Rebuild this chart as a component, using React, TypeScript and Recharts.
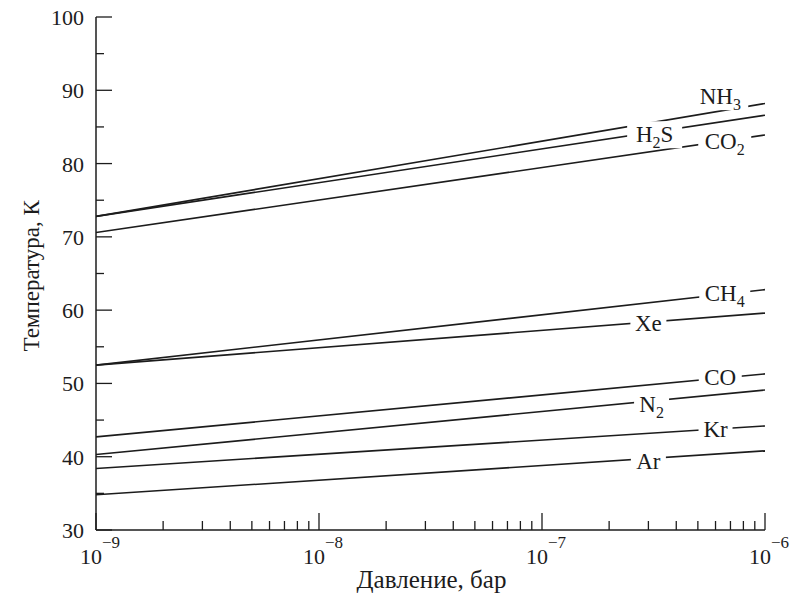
import React from "react";
import {
  ComposedChart,
  Line,
  Scatter,
  XAxis,
  YAxis,
} from "recharts";

// pressure range (bar), both ends of every line
const pressure = [1e-9, 1e-6];

// temperature (K) at 1e-9 and 1e-6 bar
const nh3 = [72.8, 88.2];
const h2s = [72.8, 86.6];
const co2 = [70.6, 83.9];
const ch4 = [52.5, 62.8];
const xe = [52.5, 59.6];
const co = [42.7, 51.3];
const n2 = [40.3, 49.1];
const kr = [38.4, 44.2];
const ar = [34.8, 40.8];

const seriesNames = ["NH3", "H2S", "CO2", "CH4", "Xe", "CO", "N2", "Kr", "Ar"];
const seriesValues = [nh3, h2s, co2, ch4, xe, co, n2, kr, ar];

// in-line labels: text ("_" marks a subscript char), pressure, temperature
const labelText = ["NH_3", "H_2S", "CO_2", "CH_4", "Xe", "CO", "N_2", "Kr", "Ar"];
const labelP = [6.3e-7, 3.2e-7, 6.6e-7, 6.6e-7, 3.0e-7, 6.3e-7, 3.1e-7, 6.0e-7, 3.0e-7];
const labelT = [89.2, 84.0, 83.1, 62.3, 58.3, 50.9, 47.2, 43.8, 39.4];
const labelWidth = [46, 45, 43, 41, 26, 33, 25, 24, 25];

const xTicks = [
  1e-9, 2e-9, 3e-9, 4e-9, 5e-9, 6e-9, 7e-9, 8e-9, 9e-9,
  1e-8, 2e-8, 3e-8, 4e-8, 5e-8, 6e-8, 7e-8, 8e-8, 9e-8,
  1e-7, 2e-7, 3e-7, 4e-7, 5e-7, 6e-7, 7e-7, 8e-7, 9e-7,
  1e-6,
];
const yTicks = [30, 35, 40, 45, 50, 55, 60, 65, 70, 75, 80, 85, 90, 95, 100];

const INK = "#1c1c1c";
const FONT = "Liberation Serif";

const lineData = seriesValues.map((v) =>
  pressure.map((p, i) => ({ p, t: v[i] }))
);
const labelData = labelText.map((text, i) => ({
  p: labelP[i],
  t: labelT[i],
  text,
  w: labelWidth[i],
}));

function XTick(props: any) {
  const { x, y, payload } = props;
  const exp = Math.round(Math.log10(payload.value));
  const isDecade = Math.abs(payload.value - Math.pow(10, exp)) < 1e-15;
  return (
    <g>
      <line x1={x} x2={x} y1={y} y2={y - (isDecade ? 17 : 9)} stroke={INK} strokeWidth={1.3} />
      {isDecade && (
        <text x={x + 4} y={y + 34} textAnchor="middle" fill={INK} fontFamily={FONT} fontSize={22}>
          <tspan>10</tspan>
          <tspan dy={-16} fontSize={17}>{"\u2212" + Math.abs(exp)}</tspan>
        </text>
      )}
    </g>
  );
}

function YTick(props: any) {
  const { x, y, payload } = props;
  const major = payload.value % 10 === 0;
  return (
    <g>
      <line x1={x} x2={x + (major ? 16 : 8)} y1={y} y2={y} stroke={INK} strokeWidth={1.3} />
      {major && (
        <text x={x - 12} y={y + 8} textAnchor="end" fill={INK} fontFamily={FONT} fontSize={22}>
          {payload.value}
        </text>
      )}
    </g>
  );
}

function SeriesLabel(props: any) {
  const { cx, cy, payload } = props;
  const parts: { ch: string; sub: boolean }[] = [];
  const s: string = payload.text;
  for (let i = 0; i < s.length; i++) {
    if (s[i] === "_") {
      parts.push({ ch: s[i + 1], sub: true });
      i++;
    } else {
      parts.push({ ch: s[i], sub: false });
    }
  }
  let prevSub = false;
  return (
    <g>
      <rect x={cx - payload.w / 2 - 5} y={cy - 13} width={payload.w + 10} height={27} fill="#fff" />
      <text x={cx} y={cy + 8} textAnchor="middle" fill={INK} fontFamily={FONT} fontSize={23}>
        {parts.map((pt, i) => {
          let dy = 0;
          if (pt.sub && !prevSub) dy = 6;
          if (!pt.sub && prevSub) dy = -6;
          prevSub = pt.sub;
          return (
            <tspan key={i} dy={dy} fontSize={pt.sub ? 16 : 23}>
              {pt.ch}
            </tspan>
          );
        })}
      </text>
    </g>
  );
}

export default function App() {
  return (
    <div style={{ position: "absolute", left: 0, top: 0, width: 791, height: 599, background: "#fff" }}>
      <ComposedChart
        width={791}
        height={599}
        margin={{ top: 17, right: 26, left: 36, bottom: 19 }}
      >
        <XAxis
          xAxisId="b"
          dataKey="p"
          type="number"
          scale="log"
          domain={[1e-9, 1e-6]}
          allowDataOverflow
          ticks={xTicks}
          interval={0}
          tick={<XTick />}
          tickSize={0}
          tickMargin={0}
          tickLine={false}
          axisLine={{ stroke: INK, strokeWidth: 1.5 }}
          height={50}
        />
        <XAxis
          xAxisId="top"
          orientation="top"
          dataKey="p"
          type="number"
          scale="log"
          domain={[1e-9, 1e-6]}
          allowDataOverflow
          tick={false}
          tickLine={false}
          axisLine={{ stroke: INK, strokeWidth: 1.5 }}
          height={0}
        />
        <YAxis
          yAxisId="l"
          type="number"
          domain={[30, 100]}
          ticks={yTicks}
          interval={0}
          tick={<YTick />}
          tickSize={0}
          tickMargin={0}
          tickLine={false}
          axisLine={{ stroke: INK, strokeWidth: 1.5 }}
          width={60}
          label={{
            value: "Температура, К",
            angle: -90,
            position: "insideLeft",
            dx: -10,
            dy: 78,
            fontFamily: FONT,
            fontSize: 23,
            fill: INK,
          }}
        />
        <YAxis
          yAxisId="r"
          orientation="right"
          type="number"
          domain={[30, 100]}
          tick={false}
          tickLine={false}
          axisLine={{ stroke: INK, strokeWidth: 1.5 }}
          width={0}
        />
        {lineData.map((d, i) => (
          <Line
            key={seriesNames[i]}
            xAxisId="b"
            yAxisId="l"
            data={d}
            dataKey="t"
            name={seriesNames[i]}
            stroke={INK}
            strokeWidth={1.6}
            dot={false}
            activeDot={false}
            isAnimationActive={false}
          />
        ))}
        <Scatter
          xAxisId="b"
          yAxisId="l"
          data={labelData}
          dataKey="t"
          shape={<SeriesLabel />}
          isAnimationActive={false}
        />
      </ComposedChart>
      <div
        style={{
          position: "absolute",
          left: 0,
          width: 791,
          top: 566,
          textAlign: "center",
          paddingLeft: 72,
          boxSizing: "border-box",
          fontFamily: FONT,
          fontSize: 25,
          color: INK,
        }}
      >
        Давление, бар
      </div>
    </div>
  );
}
